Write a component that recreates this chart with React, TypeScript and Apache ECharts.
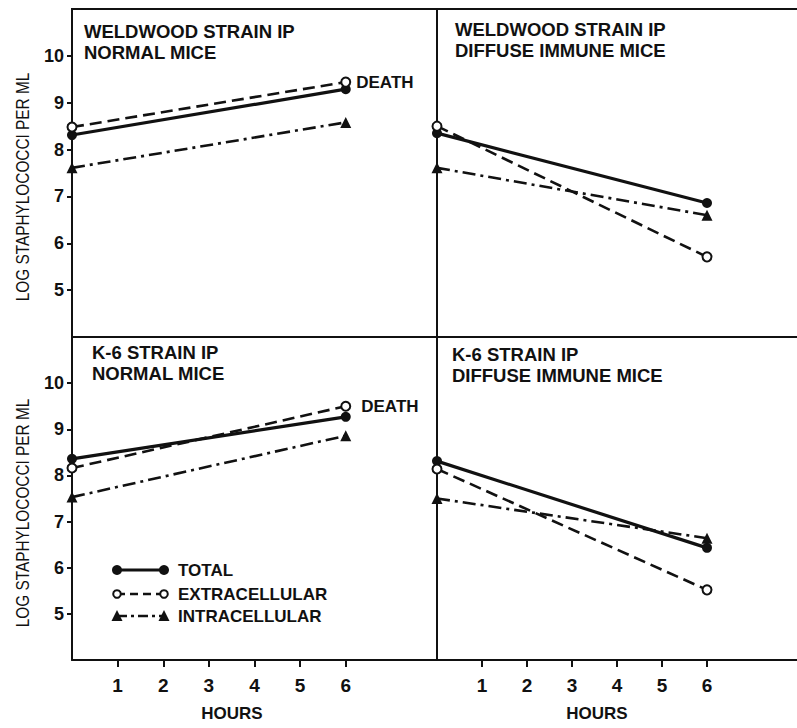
import React, { useEffect, useRef } from "react";
import * as echarts from "echarts";

const hours = [0, 6];
const seriesNames = ["TOTAL", "EXTRACELLULAR", "INTRACELLULAR"];
const xTicks = [1, 2, 3, 4, 5, 6];
const yTicks = [5, 6, 7, 8, 9, 10];

// Weldwood strain, normal mice
const wNormTotal = [8.31, 9.29];
const wNormExtra = [8.48, 9.44];
const wNormIntra = [7.61, 8.58];
// Weldwood strain, diffuse immune mice
const wImmTotal = [8.35, 6.86];
const wImmExtra = [8.5, 5.71];
const wImmIntra = [7.61, 6.6];
// K-6 strain, normal mice
const kNormTotal = [8.36, 9.27];
const kNormExtra = [8.16, 9.5];
const kNormIntra = [7.53, 8.86];
// K-6 strain, diffuse immune mice
const kImmTotal = [8.31, 6.43];
const kImmExtra = [8.14, 5.52];
const kImmIntra = [7.5, 6.64];

const panelTitles = [
  "WELDWOOD STRAIN IP\nNORMAL MICE",
  "WELDWOOD STRAIN IP\nDIFFUSE IMMUNE MICE",
  "K-6 STRAIN IP\nNORMAL MICE",
  "K-6 STRAIN IP\nDIFFUSE IMMUNE MICE",
];
const deathLabel = "DEATH";
const yName = "LOG STAPHYLOCOCCI PER ML";
const xName = "HOURS";

const FONT = "'Liberation Sans', Arial, Helvetica, sans-serif";
const INK = "#111";

const styles = [
  { symbol: "circle", symbolSize: 10, lineType: "solid" as any, width: 3.2 },
  { symbol: "emptyCircle", symbolSize: 9, lineType: [12, 6] as any, width: 2.6 },
  { symbol: "triangle", symbolSize: 11, lineType: [13, 5, 3, 5] as any, width: 2.6 },
];

function makeSeries(idx: number, vals: number[][], deathIdx: number | null, deathDist: number) {
  return vals.map((v, s) => ({
    type: "line",
    name: seriesNames[s],
    xAxisIndex: idx,
    yAxisIndex: idx,
    clip: false,
    symbol: styles[s].symbol,
    symbolSize: styles[s].symbolSize,
    lineStyle: { color: INK, width: styles[s].width, type: styles[s].lineType },
    itemStyle: { color: INK, borderColor: INK, borderWidth: s === 1 ? 2 : 0 },
    data: hours.map((h, i) => {
      const item: any = { value: [h, v[i]] };
      if (deathIdx !== null && s === deathIdx && i === hours.length - 1) {
        item.label = {
          show: true,
          formatter: deathLabel,
          position: "right",
          distance: deathDist,
          color: INK,
          fontFamily: FONT,
          fontWeight: "bold",
          fontSize: 17,
        };
      }
      return item;
    }),
  }));
}

export default function App() {
  const ref = useRef<HTMLDivElement>(null);
  useEffect(() => {
    if (!ref.current) return;
    const chart = echarts.init(ref.current, null, { renderer: "svg" });
    const grids = [
      { left: 72, top: 9, width: 365, height: 328 },
      { left: 437, top: 9, width: 368, height: 328 },
      { left: 72, top: 337, width: 365, height: 323 },
      { left: 437, top: 337, width: 368, height: 323 },
    ];
    const xAxes = grids.map((_, i) => {
      const bottom = i >= 2;
      return {
        type: "value",
        gridIndex: i,
        min: 0,
        max: 8,
        splitLine: { show: false },
        axisLine: { show: true, onZero: false, lineStyle: { color: INK, width: 2 } },
        axisTick: bottom
          ? { show: true, length: 7, customValues: xTicks, lineStyle: { color: INK, width: 2 } }
          : { show: false },
        axisLabel: bottom
          ? {
              show: true,
              customValues: xTicks,
              margin: 16,
              color: INK,
              fontFamily: FONT,
              fontWeight: "bold",
              fontSize: 19,
            }
          : { show: false },
      };
    });
    const yAxes = grids.map((_, i) => {
      const left = i % 2 === 0;
      return {
        type: "value",
        gridIndex: i,
        min: 4,
        max: 11,
        splitLine: { show: false },
        axisLine: { show: true, onZero: false, lineStyle: { color: INK, width: 2 } },
        axisTick: left
          ? { show: true, length: 5, customValues: yTicks, lineStyle: { color: INK, width: 2 } }
          : { show: false },
        axisLabel: left
          ? {
              show: true,
              customValues: yTicks,
              margin: 8,
              color: INK,
              fontFamily: FONT,
              fontWeight: "bold",
              fontSize: 18,
            }
          : { show: false },
      };
    });
    const titlePos = [
      { left: 84, top: 21 },
      { left: 455, top: 19 },
      { left: 92, top: 342 },
      { left: 452, top: 344 },
    ];
    const title = panelTitles.map((t, i) => ({
      text: t,
      left: titlePos[i].left,
      top: titlePos[i].top,
      padding: 0,
      textStyle: {
        color: INK,
        fontFamily: FONT,
        fontWeight: "bold",
        fontSize: 18.5,
        lineHeight: 21,
      },
    }));

    const txt = (text: string, x: number, y: number, extra: any = {}) => ({
      type: "text",
      x,
      y,
      ...extra,
      style: {
        text,
        fill: INK,
        fontFamily: FONT,
        fontWeight: "bold",
        fontSize: 17,
        textAlign: "left",
        textVerticalAlign: "middle",
        ...(extra.style || {}),
      },
    });

    const legendRows = [570, 594, 616];
    const lx1 = 117;
    const lx2 = 164;
    const legendGraphics: any[] = [];
    legendRows.forEach((y, s) => {
      legendGraphics.push({
        type: "line",
        shape: { x1: lx1, y1: y, x2: lx2, y2: y },
        style: {
          stroke: INK,
          lineWidth: s === 0 ? 3.2 : 2.6,
          lineDash: s === 0 ? null : s === 1 ? [8, 5] : [10, 4, 3, 4],
        },
      });
      [lx1, lx2].forEach((x) => {
        if (s === 0) {
          legendGraphics.push({ type: "circle", shape: { cx: x, cy: y, r: 5 }, style: { fill: INK } });
        } else if (s === 1) {
          legendGraphics.push({
            type: "circle",
            shape: { cx: x, cy: y, r: 3.8 },
            style: { fill: "#fff", stroke: INK, lineWidth: 2 },
          });
        } else {
          legendGraphics.push({
            type: "polygon",
            shape: { points: [[x, y - 6], [x - 5.5, y + 5], [x + 5.5, y + 5]] },
            style: { fill: INK },
          });
        }
      });
      legendGraphics.push(txt(seriesNames[s], 178, y));
    });

    const yNameStyle = { fontWeight: "normal", fontSize: 19, textAlign: "center" };
    const graphic = [
      {
        type: "line",
        shape: { x1: 71, y1: 9, x2: 797, y2: 9 },
        style: { stroke: INK, lineWidth: 2 },
      },
      txt(yName, 22, 187, { rotation: Math.PI / 2, scaleX: 0.81, style: yNameStyle }),
      txt(yName, 22, 513, { rotation: Math.PI / 2, scaleX: 0.81, style: yNameStyle }),
      txt(xName, 232, 713, { style: { textAlign: "center" } }),
      txt(xName, 597, 713, { style: { textAlign: "center" } }),
      ...legendGraphics,
    ];

    const series = [
      ...makeSeries(0, [wNormTotal, wNormExtra, wNormIntra], 1, 5),
      ...makeSeries(1, [wImmTotal, wImmExtra, wImmIntra], null, 0),
      ...makeSeries(2, [kNormTotal, kNormExtra, kNormIntra], 1, 10),
      ...makeSeries(3, [kImmTotal, kImmExtra, kImmIntra], null, 0),
    ];

    chart.setOption({
      animation: false,
      backgroundColor: "#fff",
      title,
      grid: grids,
      xAxis: xAxes,
      yAxis: yAxes,
      series,
      graphic,
    } as any);
    return () => chart.dispose();
  }, []);
  return (
    <div
      ref={ref}
      style={{ position: "absolute", left: 0, top: 0, width: 797, height: 728, background: "#fff" }}
    />
  );
}
